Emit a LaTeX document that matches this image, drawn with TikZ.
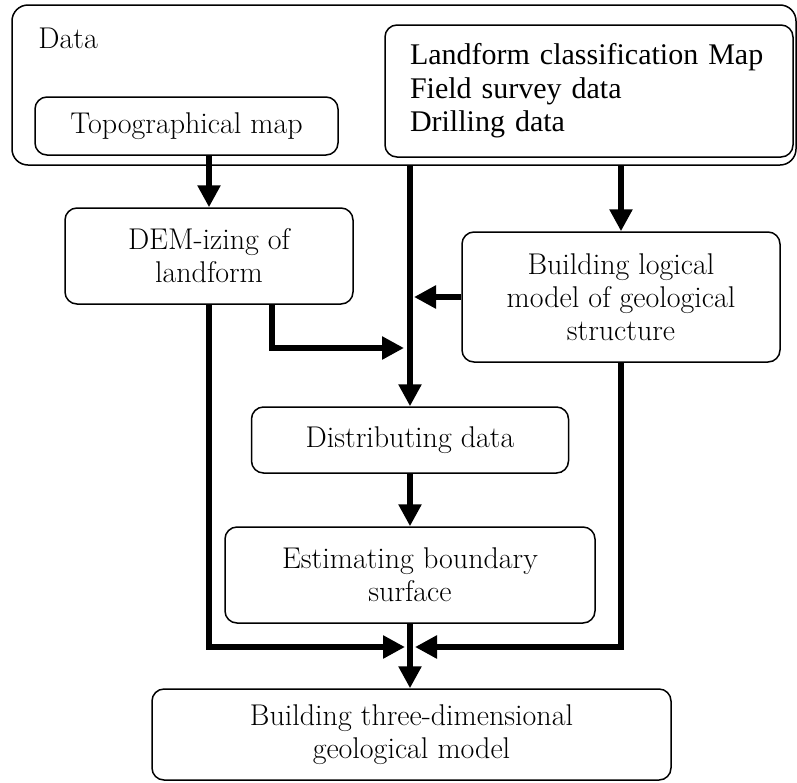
\documentclass[tikz,border=0pt]{standalone}
\usepackage{fontspec}
\newfontfamily\timesfont{Liberation Serif}
\usetikzlibrary{arrows.meta}

\begin{document}
\begin{tikzpicture}[x=0.5pt,y=-0.5pt,
    box/.style={draw,rounded corners=6pt,line width=0.75pt,align=center,inner sep=0pt,
        font=\fontsize{15}{16.5}\selectfont},
    flow/.style={line width=3.2pt,-{Triangle[length=11pt,width=11pt]}}]
    \useasboundingbox (0,0) rectangle (797,782);

    % 数据
    \node[box,rounded corners=8pt,minimum width=392pt,minimum height=80pt] (data) at (404,85) {};
    \node[anchor=base west,inner sep=0pt,font=\fontsize{15}{16.5}\selectfont] (datalabel) at (38,48) {Data};
    \node[box,minimum width=151.5pt,minimum height=29pt] (topo) at (186.5,126) {Topographical map};
    \node[box,align=left,text width=179pt,inner xsep=12.5pt,minimum height=66pt,
        font=\timesfont\fontsize{15}{16.8}\selectfont] (survey) at (589,91)
        {Landform classification Map\\Field survey data\\Drilling data};

    % 处理步骤
    \node[box,minimum width=144pt,minimum height=48pt] (dem) at (209,256) {DEM-izing of\\landform};
    \node[box,minimum width=159pt,minimum height=65pt] (logic) at (621,297)
        {Building logical\\model of geological\\structure};
    \node[box,minimum width=158.5pt,minimum height=33pt] (dist) at (410,440) {Distributing data};
    \node[box,minimum width=185pt,minimum height=48pt] (est) at (410,575) {Estimating boundary\\surface};
    \node[box,minimum width=259.5pt,minimum height=45.5pt] (model) at (411.5,734.5)
        {Building three-dimensional\\geological model};

    % 箭头
    \coordinate (demout) at (272,304);
    \coordinate (demturn) at (272,348);
    \coordinate (join) at (410,647);
    \draw[flow] (topo.south -| dem.north) -- (dem.north);
    \draw[flow] (data.south -| logic.north) -- (logic.north);
    \draw[flow] (dist.north |- data.south) -- (dist.north);
    \draw[flow,shorten >=2pt] (logic.west) -- (logic.west -| dist.north);
    \draw[flow,shorten >=3pt] (demout) -- (demturn) -- (demturn -| dist.north);
    \draw[flow] (dist.south) -- (est.north);
    \draw[flow,shorten >=2.5pt] (dem.south) |- (join);
    \draw[flow,shorten >=2.5pt] (logic.south) |- (join);
    \draw[flow] (est.south) -- (est.south |- model.north);
\end{tikzpicture}
\end{document}
